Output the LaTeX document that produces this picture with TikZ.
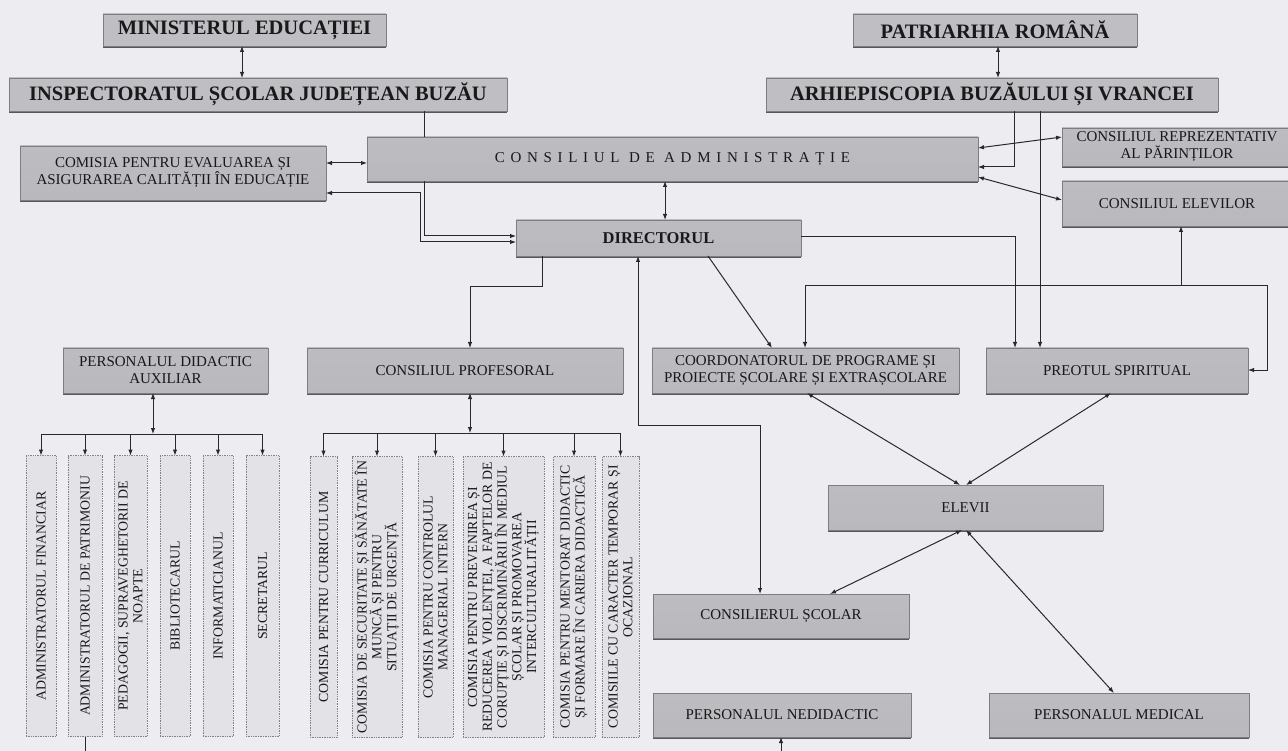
\documentclass[tikz,border=0pt]{standalone}
\usepackage{fontspec}
\setmainfont{Liberation Serif}
\usetikzlibrary{arrows.meta,shadows}
\definecolor{bgc}{RGB}{236,236,241}
\definecolor{boxtop}{RGB}{188,188,193}
\definecolor{boxmid}{RGB}{214,214,219}
\definecolor{boxbot}{RGB}{184,184,189}
\definecolor{titlefill}{RGB}{190,190,195}
\definecolor{boxline}{RGB}{125,125,130}
\definecolor{shadowc}{RGB}{60,60,65}
\definecolor{vfill}{RGB}{226,226,231}
\definecolor{vline}{RGB}{130,130,135}
\definecolor{linec}{RGB}{40,40,45}
\newcommand{\myvtext}[1]{\rotatebox{90}{\parbox{276pt}{\centering\fontsize{13.8}{14.8}\selectfont #1}}}
\begin{document}
\begin{tikzpicture}[x=1pt,y=-1pt,
  >={Latex[length=6pt,width=4.5pt]},
  box/.style={draw=boxline, line width=0.6pt, top color=boxtop, middle color=boxmid, bottom color=boxbot,
    inner sep=0pt, outer sep=0pt, align=center, text=black!90,
    font=\fontsize{15}{17}\selectfont,
    drop shadow={shadow xshift=0pt, shadow yshift=-2pt, fill=shadowc, opacity=0.85}},
  titlebox/.style={box, top color=titlefill, middle color=titlefill, bottom color=titlefill,
    font=\bfseries\fontsize{20.5}{23}\selectfont, drop shadow={shadow xshift=0pt, shadow yshift=-1.5pt, fill=shadowc, opacity=0.7}},
  vbox/.style={draw=vline, densely dotted, line width=0.7pt, fill=vfill, inner sep=0pt, outer sep=0pt, text=black!90},
  conn/.style={draw=linec, line width=1pt}
]
\path[use as bounding box, fill=bgc] (0,0) rectangle (1288,751);

% top titles
\node[titlebox, minimum width=283, minimum height=32] (mined) at (244.5,30) {MINISTERUL EDUCAȚIEI};
\node[titlebox, minimum width=498, minimum height=33] (insp) at (258,94.5) {INSPECTORATUL ȘCOLAR JUDEȚEAN BUZĂU};
\node[titlebox, minimum width=284, minimum height=32] (patr) at (995,30) {PATRIARHIA ROMÂNĂ};
\node[titlebox, minimum width=452, minimum height=33] (arhi) at (992,94.5) {ARHIEPISCOPIA BUZĂULUI ȘI VRANCEI};

% middle boxes
\node[box, minimum width=611, minimum height=44, font=\fontsize{15}{17}\selectfont\addfontfeature{LetterSpace=38}] (cons) at (672.5,159) {CONSILIUL DE ADMINISTRAȚIE};
\node[box, minimum width=306, minimum height=54] (comisia) at (173,173) {COMISIA PENTRU EVALUAREA ȘI\\ASIGURAREA CALITĂȚII ÎN EDUCAȚIE};
\node[box, minimum width=285, minimum height=36, font=\bfseries\fontsize{16.5}{19}\selectfont] (dir) at (658.5,238) {DIRECTORUL};
\node[box, minimum width=230, minimum height=38] (creprez) at (1177,147) {CONSILIUL REPREZENTATIV\\AL PĂRINȚILOR};
\node[box, minimum width=230, minimum height=45] (celev) at (1177,203.5) {CONSILIUL ELEVILOR};

\node[box, minimum width=205, minimum height=45] (pda) at (165.5,370.5) {PERSONALUL DIDACTIC\\AUXILIAR};
\node[box, minimum width=316, minimum height=45] (cprof) at (465,370.5) {CONSILIUL PROFESORAL};
\node[box, minimum width=307, minimum height=45] (coord) at (805.5,370.5) {COORDONATORUL DE PROGRAME ȘI\\PROIECTE ȘCOLARE ȘI EXTRAȘCOLARE};
\node[box, minimum width=262, minimum height=45] (preot) at (1117,370.5) {PREOTUL SPIRITUAL};

\node[box, minimum width=275, minimum height=45] (elevii) at (965.5,507.5) {ELEVII};
\node[box, minimum width=256, minimum height=44] (cscol) at (781,616) {CONSILIERUL ȘCOLAR};
\node[box, minimum width=258, minimum height=44] (pnedid) at (782,715) {PERSONALUL NEDIDACTIC};
\node[box, minimum width=260, minimum height=44] (pmed) at (1119,715) {PERSONALUL MEDICAL};

% vertical boxes, left group
\node[vbox, minimum width=30, minimum height=281] (v1) at (41,596) {\myvtext{ADMINISTRATORUL FINANCIAR}};
\node[vbox, minimum width=34, minimum height=281] (v2) at (85,596) {\myvtext{ADMINISTRATORUL DE PATRIMONIU}};
\node[vbox, minimum width=33, minimum height=281] (v3) at (130.5,596) {\myvtext{PEDAGOGII, SUPRAVEGHETORII DE\\NOAPTE}};
\node[vbox, minimum width=30, minimum height=281] (v4) at (175,596) {\myvtext{BIBLIOTECARUL}};
\node[vbox, minimum width=30, minimum height=281] (v5) at (218,596) {\myvtext{INFORMATICIANUL}};
\node[vbox, minimum width=33, minimum height=281] (v6) at (262.5,596) {\myvtext{SECRETARUL}};

% vertical boxes, right group
\node[vbox, minimum width=27, minimum height=281] (c1) at (323.5,597) {\myvtext{COMISIA PENTRU CURRICULUM}};
\node[vbox, minimum width=50, minimum height=281] (c2) at (377,597) {\myvtext{COMISIA DE SECURITATE ȘI SĂNĂTATE ÎN\\MUNCĂ ȘI PENTRU\\SITUAȚII DE URGENȚĂ}};
\node[vbox, minimum width=35, minimum height=281] (c3) at (435.5,597) {\myvtext{COMISIA PENTRU CONTROLUL\\MANAGERIAL INTERN}};
\node[vbox, minimum width=81, minimum height=281] (c4) at (503.5,597) {\myvtext{COMISIA PENTRU PREVENIREA ȘI\\REDUCEREA VIOLENȚEI, A FAPTELOR DE\\CORUPȚIE ȘI DISCRIMINĂRII ÎN MEDIUL\\ȘCOLAR ȘI PROMOVAREA\\INTERCULTURALITĂȚII}};
\node[vbox, minimum width=42, minimum height=281] (c5) at (574,597) {\myvtext{COMISIA PENTRU MENTORAT DIDACTIC\\ȘI FORMARE ÎN CARIERA DIDACTICĂ}};
\node[vbox, minimum width=37, minimum height=281] (c6) at (620.5,597) {\myvtext{COMISIILE CU CARACTER TEMPORAR ȘI\\OCAZIONAL}};

\coordinate (botA) at (85,751);
\coordinate (botB) at (781,751);

% connectors
\draw[conn,<->] (mined.south -| 242,0) -- (insp.north -| 242,0);
\draw[conn,<->] (patr.south -| 998,0) -- (arhi.north -| 998,0);
\draw[conn] (insp.south -| 424,0) -- (cons.north -| 424,0);
\draw[conn,->] (cons.south -| 424,0) -- (424,236) -- (dir.west |- 0,236);
\draw[conn,<->] (comisia.east |- 0,193) -- (420,193) -- (420,242) -- (dir.west |- 0,242);
\draw[conn,<->] (comisia.east |- 0,163) -- (cons.west |- 0,163);
\draw[conn,<->] (cons.south -| 665,0) -- (dir.north -| 665,0);
\draw[conn,->] (arhi.south -| 1014,0) -- (1014,167) -- (cons.east |- 0,167);
\draw[conn,->] (arhi.south -| 1040,0) -- (preot.north -| 1040,0);
\draw[conn,<->] (cons.east |- 0,148) -- (creprez.west |- 0,137);
\draw[conn,<->] (cons.east |- 0,177) -- (celev.west |- 0,200);
\draw[conn,->] (dir.east |- 0,237) -- (1015,237) -- (preot.north -| 1015,0);
\draw[conn,->] (dir.south -| 708,0) -- (coord.north -| 772,0);
\draw[conn,<->] (coord.north -| 805,0) -- (805,286) -- (1267,286) -- (1267,370) -- (preot.east |- 0,370);
\draw[conn,->] (1181,286) -- (celev.south -| 1181,0);
\draw[conn,->] (dir.south -| 542,0) -- (542,287) -- (470,287) -- (cprof.north -| 470,0);
\draw[conn,<->] (dir.south -| 638,0) -- (638,425) -- (760,425) -- (cscol.north -| 760,0);
\draw[conn,<->] (coord.south -| 807,0) -- (elevii.north -| 960,0);
\draw[conn,<->] (preot.south -| 1111,0) -- (elevii.north -| 966,0);
\draw[conn,<->] (elevii.south -| 962,0) -- (cscol.north -| 830,0);
\draw[conn,<->] (elevii.south -| 966,0) -- (pmed.north -| 1114,0);
\draw[conn,->] (botB) -- (pnedid.south -| botB);
\draw[conn] (v2.south) -- (botA);

% left bus
\draw[conn,<->] (pda.south -| 153,0) -- (153,434);
\draw[conn] (v1.north |- 0,434) -- (v6.north |- 0,434);
\foreach \n in {v1,v2,v3,v4,v5,v6} \draw[conn,->] (\n.north |- 0,434) -- (\n.north);
% right bus
\draw[conn,<->] (cprof.south -| 470,0) -- (470,433);
\draw[conn] (c1.north |- 0,433) -- (c6.north |- 0,433);
\foreach \n in {c1,c2,c3,c4,c5,c6} \draw[conn,->] (\n.north |- 0,433) -- (\n.north);
\end{tikzpicture}
\end{document}
